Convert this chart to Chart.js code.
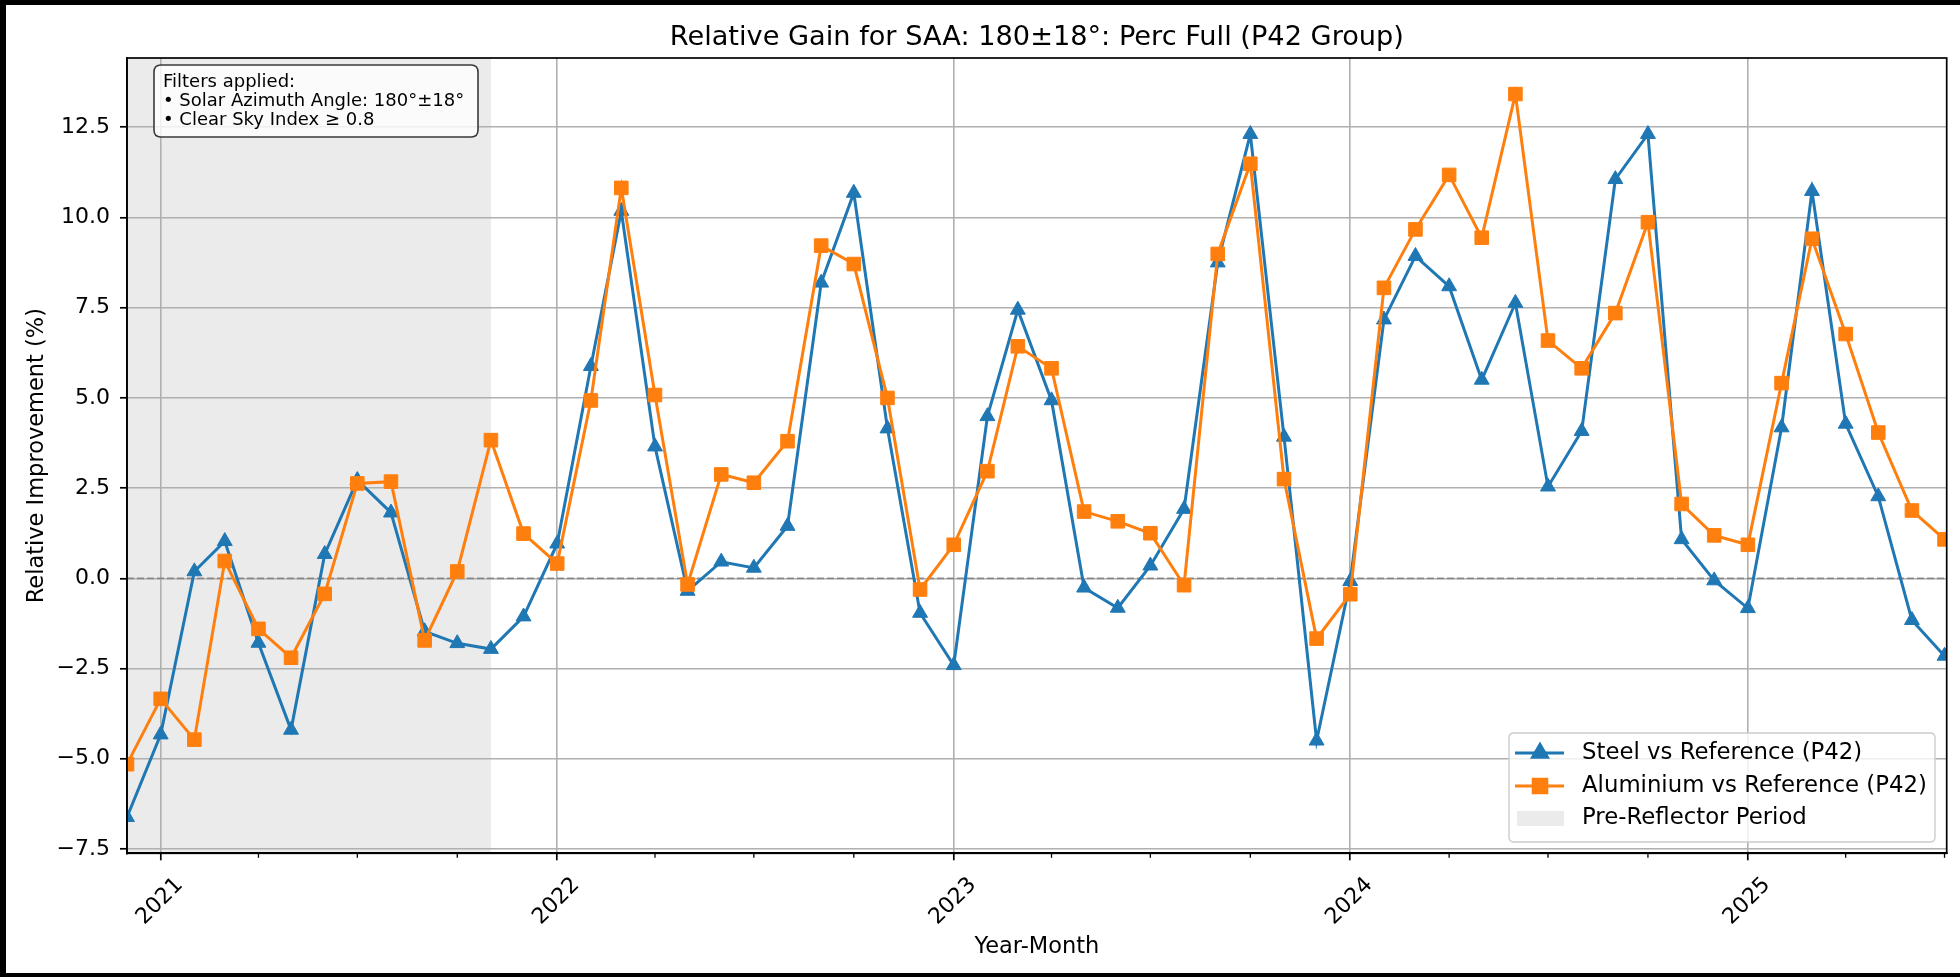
<!DOCTYPE html>
<html><head><meta charset="utf-8">
<script src="https://cdn.jsdelivr.net/npm/chart.js@4.4.1/dist/chart.umd.min.js"></script>
<style>html,body{margin:0;padding:0;background:#fff;overflow:hidden}canvas{display:block}</style>
</head><body>
<canvas id="c" width="1960" height="977"></canvas>
<script>
// ---------------- data ----------------
const months = ['2020-12',
  '2021-01','2021-02','2021-03','2021-04','2021-05','2021-06','2021-07','2021-08','2021-09','2021-10','2021-11','2021-12',
  '2022-01','2022-02','2022-03','2022-04','2022-05','2022-06','2022-07','2022-08','2022-09','2022-10','2022-11','2022-12',
  '2023-01','2023-02','2023-03','2023-04','2023-05','2023-06','2023-07','2023-08','2023-09','2023-10','2023-11','2023-12',
  '2024-01','2024-02','2024-03','2024-04','2024-05','2024-06','2024-07','2024-08','2024-09','2024-10','2024-11','2024-12',
  '2025-01','2025-02','2025-03','2025-04','2025-05','2025-06','2025-07'];
const steelVsRef = [-6.62,
  -4.33, 0.19, 1.03, -1.79, -4.20, 0.67, 2.72, 1.82, -1.47, -1.80, -1.96, -1.06,
  0.96, 5.88, 10.18, 3.65, -0.35, 0.46, 0.29, 1.45, 8.19, 10.68, 4.15, -0.96,
  -2.41, 4.49, 7.44, 4.93, -0.26, -0.82, 0.35, 1.92, 8.75, 12.31, 3.92, -4.50,
  -0.08, 7.17, 8.93, 8.09, 5.50, 7.63, 2.54, 4.08, 11.06, 12.31, 1.08, -0.06,
  -0.83, 4.18, 10.73, 4.28, 2.27, -1.16, -2.15];
const aluminiumVsRef = [-5.15,
  -3.34, -4.47, 0.48, -1.40, -2.20, -0.43, 2.63, 2.68, -1.72, 0.19, 3.83, 1.24,
  0.41, 4.93, 10.82, 5.08, -0.17, 2.88, 2.65, 3.80, 9.22, 8.71, 5.00, -0.31,
  0.93, 2.97, 6.43, 5.82, 1.85, 1.58, 1.25, -0.19, 8.99, 11.49, 2.75, -1.67,
  -0.44, 8.05, 9.67, 11.18, 9.44, 13.42, 6.59, 5.82, 7.35, 9.87, 2.06, 1.19,
  0.93, 5.41, 9.41, 6.77, 4.04, 1.88, 1.08];
const yTickValues = [-7.5, -5.0, -2.5, 0.0, 2.5, 5.0, 7.5, 10.0, 12.5];
const xTickMonths = ['2021-01','2021-04','2021-07','2021-10','2022-01','2022-04','2022-07','2022-10',
  '2023-01','2023-04','2023-07','2023-10','2024-01','2024-04','2024-07','2024-10',
  '2025-01','2025-04','2025-07'];
const xTickLabels = ['2021','','','','2022','','','','2023','','','','2024','','','','2025','',''];
const preReflectorStart = '2020-12';
const preReflectorEnd = '2021-11';
const seriesNames = ['Steel vs Reference (P42)', 'Aluminium vs Reference (P42)', 'Pre-Reflector Period'];
const chartTitle = 'Relative Gain for SAA: 180±18°: Perc Full (P42 Group)';
const yAxisTitle = 'Relative Improvement (%)';
const xAxisTitle = 'Year-Month';
const filterLines = ['Filters applied:', '• Solar Azimuth Angle: 180°±18°', '• Clear Sky Index ≥ 0.8'];

// ---------------- helpers ----------------
const DAY = 86400000;
function toDay(m){ const p = m.split('-').map(Number); return Date.UTC(p[0], p[1]-1, 1) / DAY; }
const tickLabelByDay = {};
xTickMonths.forEach((m, i) => { tickLabelByDay[toDay(m)] = xTickLabels[i]; });
const isMajor = v => !!tickLabelByDay[v];
const FAM = '"DejaVu Sans", "Liberation Sans", sans-serif';
const BLUE = '#1f77b4', ORANGE = '#ff7f0e';
const fmtY = v => (v < 0 ? '\u2212' : '') + Math.abs(v).toFixed(1);

function roundRect(ctx, x, y, w, h, r) {
  ctx.beginPath();
  ctx.moveTo(x + r, y);
  ctx.lineTo(x + w - r, y); ctx.quadraticCurveTo(x + w, y, x + w, y + r);
  ctx.lineTo(x + w, y + h - r); ctx.quadraticCurveTo(x + w, y + h, x + w - r, y + h);
  ctx.lineTo(x + r, y + h); ctx.quadraticCurveTo(x, y + h, x, y + h - r);
  ctx.lineTo(x, y + r); ctx.quadraticCurveTo(x, y, x + r, y);
  ctx.closePath();
}

const decor = {
  id: 'decor',
  beforeDraw(chart) {
    const {ctx, chartArea: a, scales: {x}} = chart;
    ctx.save();
    ctx.fillStyle = '#fff';
    ctx.fillRect(0, 0, chart.width, chart.height);
    const x0 = Math.max(a.left, x.getPixelForValue(toDay(preReflectorStart)));
    const x1 = x.getPixelForValue(toDay(preReflectorEnd));
    ctx.fillStyle = '#ebebeb';
    ctx.fillRect(x0, a.top, x1 - x0, a.bottom - a.top);
    // title centred over the axes
    ctx.fillStyle = '#000';
    ctx.font = '27.2px ' + FAM;
    ctx.textAlign = 'center'; ctx.textBaseline = 'alphabetic';
    ctx.fillText(chartTitle, (a.left + a.right) / 2, 44.5);
    ctx.restore();
  },
  beforeDatasetsDraw(chart) {
    const {ctx, chartArea: a, scales: {x, y}} = chart;
    ctx.save();
    const y0 = y.getPixelForValue(0);
    ctx.strokeStyle = 'rgba(128,128,128,0.85)';
    ctx.lineWidth = 1.6;
    ctx.setLineDash([7, 3]);
    ctx.beginPath(); ctx.moveTo(a.left, y0); ctx.lineTo(a.right, y0); ctx.stroke();
    ctx.setLineDash([]);
    // minor ticks
    ctx.strokeStyle = '#000'; ctx.lineWidth = 1.3;
    xTickMonths.forEach(m => {
      const v = toDay(m);
      if (isMajor(v)) return;
      const px = x.getPixelForValue(v);
      ctx.beginPath(); ctx.moveTo(px, a.bottom); ctx.lineTo(px, a.bottom + 4.5); ctx.stroke();
    });
    ctx.restore();
  },
  afterDatasetsDraw(chart) {
    const {ctx, chartArea: a} = chart;
    ctx.save();
    // spines
    ctx.strokeStyle = '#000'; ctx.lineWidth = 1.7;
    ctx.strokeRect(a.left, a.top, a.right - a.left, a.bottom - a.top);
    // filter info box
    roundRect(ctx, 154, 65, 324, 72, 7);
    ctx.fillStyle = 'rgba(255,255,255,0.8)'; ctx.fill();
    ctx.strokeStyle = '#3a3a3a'; ctx.lineWidth = 1.6; ctx.stroke();
    ctx.fillStyle = '#000';
    ctx.font = '18px ' + FAM;
    ctx.textAlign = 'left'; ctx.textBaseline = 'alphabetic';
    const bl = [86.5, 105.5, 124.5];
    filterLines.forEach((t, i) => ctx.fillText(t, 163, bl[i]));
    // legend
    roundRect(ctx, 1509, 733, 426, 109, 5);
    ctx.fillStyle = 'rgba(255,255,255,0.8)'; ctx.fill();
    ctx.strokeStyle = '#cccccc'; ctx.lineWidth = 1.4; ctx.stroke();
    const rows = [753, 786, 818.5];
    const ds = chart.data.datasets;
    [0, 1].forEach(i => {
      const d = ds[i];
      ctx.strokeStyle = d.borderColor; ctx.lineWidth = d.borderWidth;
      ctx.beginPath(); ctx.moveTo(1515, rows[i]); ctx.lineTo(1564, rows[i]); ctx.stroke();
      ctx.fillStyle = d.backgroundColor; ctx.strokeStyle = d.borderColor;
      Chart.helpers.drawPoint(ctx, {pointStyle: d.pointStyle, radius: d.pointRadius, borderWidth: 1, rotation: 0}, 1540, rows[i]);
    });
    ctx.fillStyle = '#ebebeb';
    ctx.fillRect(1517, 811, 47, 15);
    ctx.fillStyle = '#000';
    ctx.font = '22.8px ' + FAM;
    ctx.textBaseline = 'middle';
    seriesNames.forEach((t, i) => ctx.fillText(t, 1582, rows[i]));
    ctx.restore();
  },
  afterDraw(chart) {
    const ctx = chart.ctx;
    ctx.save();
    ctx.fillStyle = '#000';
    ctx.fillRect(0, 0, chart.width, 5);
    ctx.fillRect(0, 0, 6, chart.height);
    ctx.fillRect(0, 973, chart.width, 4);
    ctx.restore();
  }
};

const xMin = toDay(months[0]);
const xMax = toDay(months[months.length - 1]) + 2;

new Chart(document.getElementById('c'), {
  type: 'line',
  data: {
    datasets: [
      {
        label: seriesNames[0],
        data: months.map((m, i) => ({x: toDay(m), y: steelVsRef[i]})),
        borderColor: BLUE, backgroundColor: BLUE, borderWidth: 3,
        pointStyle: 'triangle', pointRadius: 8.6, pointBorderWidth: 1,
        pointBackgroundColor: BLUE, pointBorderColor: BLUE,
        tension: 0, order: 1
      },
      {
        label: seriesNames[1],
        data: months.map((m, i) => ({x: toDay(m), y: aluminiumVsRef[i]})),
        borderColor: ORANGE, backgroundColor: ORANGE, borderWidth: 3,
        pointStyle: 'rect', pointRadius: 9.6, pointBorderWidth: 1,
        pointBackgroundColor: ORANGE, pointBorderColor: ORANGE,
        tension: 0, order: 0
      }
    ]
  },
  options: {
    responsive: false,
    animation: false,
    events: [],
    devicePixelRatio: 1,
    layout: {padding: {top: 58, left: 0, right: 13.3, bottom: 0}},
    plugins: {
      legend: {display: false},
      tooltip: {enabled: false},
      title: {display: false}
    },
    scales: {
      x: {
        type: 'linear', min: xMin, max: xMax,
        afterBuildTicks: s => { s.ticks = xTickMonths.map(m => ({value: toDay(m)})); },
        afterFit: s => { s.height = 123.7; s.paddingLeft = 0; s.paddingRight = 0; },
        grid: {
          color: c => (c.tick && isMajor(c.tick.value)) ? '#b0b0b0' : 'rgba(0,0,0,0)',
          lineWidth: 1.6, tickLength: 7, tickWidth: 1.7,
          tickColor: c => (c.tick && isMajor(c.tick.value)) ? '#000' : 'rgba(0,0,0,0)'
        },
        border: {display: true, color: '#000', width: 1.7},
        ticks: {
          autoSkip: false, minRotation: 45, maxRotation: 45, labelOffset: 19, padding: 12,
          color: '#000', font: {family: FAM, size: 22},
          callback: v => tickLabelByDay[v] || ''
        },
        title: {display: true, text: xAxisTitle, color: '#000', font: {family: FAM, size: 22.5}, padding: {top: 0, bottom: 16.5}}
      },
      y: {
        min: -7.62, max: 14.42,
        afterBuildTicks: s => { s.ticks = yTickValues.map(v => ({value: v})); },
        afterFit: s => { s.width = 127; s.paddingTop = 0; s.paddingBottom = 0; },
        grid: {color: '#b0b0b0', lineWidth: 1.6, tickLength: 7, tickWidth: 1.7, tickColor: '#000'},
        border: {display: true, color: '#000', width: 1.7},
        ticks: {color: '#000', font: {family: FAM, size: 22}, padding: 10, callback: v => fmtY(v)},
        title: {display: true, text: yAxisTitle, color: '#000', font: {family: FAM, size: 22.5}, padding: {top: 23.5, bottom: 0}}
      }
    }
  },
  plugins: [decor]
});
</script>
</body></html>
